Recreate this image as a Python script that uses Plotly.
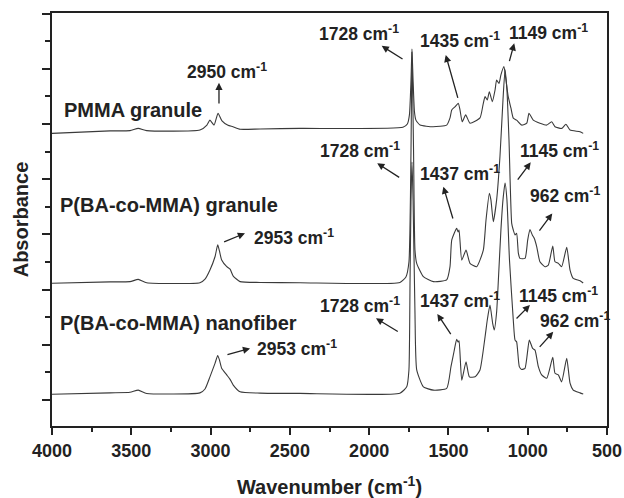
import plotly.graph_objects as go

# ---- data (wavenumber cm^-1, offset absorbance in arbitrary units) ----
pmma_wn = [4000, 3634, 3508, 3456, 3403, 3067, 3023, 3004, 2978, 2953, 2928, 2890, 2859, 2814, 2688, 2436,
           1787, 1759, 1746, 1736, 1730, 1723, 1714, 1705, 1679, 1597, 1511, 1490, 1479, 1459, 1438, 1427,
           1413, 1391, 1364, 1301, 1282, 1269, 1255, 1242, 1223, 1206, 1196, 1181, 1169, 1150, 1137, 1123,
           1106, 1091, 1070, 1038, 1006, 992, 965, 923, 880, 849, 828, 786, 759, 733, 670, 650]
pmma_ab = [9.66, 9.75, 9.76, 9.84, 9.76, 9.78, 9.96, 10.14, 9.96, 10.39, 10.11, 9.95, 9.90, 9.81, 9.82, 9.84,
           9.88, 10.00, 10.33, 11.59, 12.71, 11.59, 10.43, 10.14, 9.96, 9.90, 9.96, 10.22, 10.51, 10.62, 10.75, 10.51,
           10.08, 10.33, 10.03, 10.22, 10.69, 10.99, 10.87, 11.17, 10.81, 11.23, 11.59, 11.47, 11.78, 12.08, 11.59, 10.99,
           10.58, 10.21, 10.14, 9.96, 10.03, 10.39, 10.14, 10.03, 9.96, 10.08, 9.90, 9.84, 9.99, 9.78, 9.72, 9.66]

gran_wn = [4000, 3634, 3508, 3456, 3403, 3067, 3035, 3004, 2972, 2955, 2944, 2930, 2898, 2877, 2857, 2814, 2688, 2436,
           1806, 1768, 1749, 1736, 1730, 1720, 1711, 1700, 1658, 1595, 1511, 1490, 1479, 1448, 1439, 1433, 1416,
           1389, 1364, 1322, 1280, 1263, 1242, 1232, 1217, 1196, 1175, 1156, 1143, 1131, 1118, 1101, 1091, 1080,
           1070, 1059, 1049, 1017, 1000, 986, 971, 959, 943, 923, 891, 870, 842, 828, 807, 786, 754, 733, 713, 670, 650]
gran_ab = [4.23, 4.28, 4.29, 4.37, 4.25, 4.25, 4.38, 4.71, 5.19, 5.62, 5.40, 5.07, 4.83, 4.74, 4.49, 4.29, 4.26, 4.25,
           4.26, 4.46, 5.00, 9.06, 12.61, 9.06, 5.43, 4.95, 4.47, 4.29, 4.35, 4.83, 5.80, 6.22, 6.09, 6.16, 5.07,
           5.43, 4.95, 4.83, 5.43, 6.52, 7.49, 7.25, 6.46, 7.25, 8.82, 10.87, 11.96, 11.23, 9.42, 6.40, 6.16, 5.98,
           6.04, 5.32, 5.13, 5.13, 5.80, 6.18, 5.98, 5.86, 5.55, 5.01, 4.83, 4.89, 5.58, 5.01, 4.95, 4.83, 5.53, 4.71, 4.41, 4.32, 4.24]

fib_wn = [4000, 3634, 3508, 3456, 3403, 3067, 3035, 3004, 2972, 2955, 2944, 2930, 2898, 2877, 2857, 2814, 2688, 2436,
          1806, 1763, 1749, 1742, 1736, 1730, 1723, 1711, 1700, 1658, 1595, 1511, 1484, 1465, 1448, 1439, 1433, 1416,
          1389, 1368, 1332, 1301, 1269, 1255, 1238, 1221, 1211, 1196, 1185, 1169, 1156, 1143, 1131, 1115, 1091, 1080,
          1070, 1053, 1038, 1017, 990, 969, 954, 933, 912, 880, 842, 828, 807, 786, 754, 733, 713, 670, 650]
fib_ab = [0.21, 0.26, 0.28, 0.36, 0.24, 0.26, 0.40, 0.84, 1.33, 1.61, 1.45, 1.15, 0.91, 0.75, 0.54, 0.30, 0.25, 0.24,
          0.25, 0.48, 1.09, 4.35, 7.25, 8.62, 7.25, 3.15, 1.09, 0.48, 0.36, 0.42, 1.21, 1.75, 2.20, 2.10, 2.15, 0.72,
          1.39, 0.84, 0.84, 1.09, 2.29, 2.90, 3.44, 2.78, 2.54, 3.19, 4.35, 6.16, 7.25, 7.86, 7.25, 5.07, 2.90, 2.17,
          2.11, 1.21, 1.11, 1.15, 2.17, 1.87, 1.81, 1.21, 0.91, 0.79, 1.55, 0.97, 0.91, 0.66, 1.51, 0.61, 0.36, 0.26, 0.22]

series_names = ["PMMA granule", "P(BA-co-MMA) granule", "P(BA-co-MMA) nanofiber"]
x_ticks = [4000, 3500, 3000, 2500, 2000, 1500, 1000, 500]

FONT = "Liberation Sans, Arial, Helvetica, sans-serif"
LINE = "#3a3a3a"

fig = go.Figure()
for name, xs, ys in zip(series_names, [pmma_wn, gran_wn, fib_wn], [pmma_ab, gran_ab, fib_ab]):
    fig.add_trace(go.Scatter(x=xs, y=ys, mode="lines", name=name,
                             line=dict(color=LINE, width=1.1, shape="spline", smoothing=0.5),
                             showlegend=False))

ann = []
# sample names
for name, xx, yy in [(series_names[0], 3937, 10.51), (series_names[1], 3960, 7.07), (series_names[2], 3960, 2.78)]:
    ann.append(dict(x=xx, y=yy, xref="x", yref="y", text=name, showarrow=False, xanchor="left", yanchor="middle",
                    font=dict(family=FONT, size=20, color="#222", weight="bold")))

# peak labels (text, x left, y middle)
peak_labels = [("2950", 3161, 11.93), ("1728", 2331, 13.30), ("1435", 1690, 13.04), ("1149", 1133, 13.34),
               ("1728", 2321, 9.06), ("1437", 1690, 8.21), ("1145", 1059, 9.06), ("962", 1000, 7.43),
               ("2953", 2741, 5.89), ("2953", 2720, 1.87), ("1728", 2321, 3.44), ("1437", 1690, 3.62),
               ("1145", 1070, 3.80), ("962", 933, 2.90)]
for t, xx, yy in peak_labels:
    ann.append(dict(x=xx, y=yy, xref="x", yref="y", text=f"{t} cm<sup>-1</sup>", showarrow=False,
                    xanchor="left", yanchor="middle",
                    font=dict(family=FONT, size=17.5, color="#222", weight="bold")))

# arrows (tail -> head)
arrows = [((2947, 10.69), (2947, 11.49)), ((1780, 12.32), (1921, 12.83)), ((1438, 10.89), (1517, 12.50)),
          ((1118, 12.22), (1085, 12.92)), ((1801, 8.03), (1949, 8.58)), ((1469, 6.52), (1532, 7.73)),
          ((1070, 7.93), (981, 8.61)), ((933, 6.08), (845, 6.76)), ((2924, 5.71), (2783, 6.04)),
          ((2903, 1.63), (2751, 1.87)), ((1810, 2.45), (1957, 2.96)), ((1479, 2.33), (1570, 3.12)),
          ((1080, 2.90), (986, 3.44)), ((933, 1.87), (839, 2.47))]
for (tx, ty), (hx, hy) in arrows:
    ann.append(dict(x=hx, y=hy, ax=tx, ay=ty, xref="x", yref="y", axref="x", ayref="y", text="",
                    showarrow=True, arrowhead=2, arrowsize=1.1, arrowwidth=1.3, arrowcolor="#222"))

fig.update_layout(
    width=624, height=498,
    margin=dict(l=52, r=17, t=13, b=72),
    paper_bgcolor="white", plot_bgcolor="white",
    annotations=ann,
    font=dict(family=FONT, color="#222"),
    xaxis=dict(range=[4000, 500], tickvals=x_ticks, ticks="outside", ticklen=7, tickwidth=1.5, tickcolor="#222",
               minor=dict(dtick=250, ticks="outside", ticklen=4, tickwidth=1.5, tickcolor="#222"),
               showline=True, linewidth=2, linecolor="#222", mirror=True, showgrid=False, zeroline=False,
               automargin=False,
               tickfont=dict(family=FONT, size=18, color="#222", weight="bold"),
               title=dict(text="Wavenumber (cm<sup>-1</sup>)", standoff=32,
                          font=dict(family=FONT, size=20, color="#222", weight="bold"))),
    yaxis=dict(range=[-0.94, 14.02], tick0=0, dtick=2, ticks="outside", ticklen=8, tickwidth=1.5, tickcolor="#222",
               minor=dict(dtick=1, ticks="outside", ticklen=5, tickwidth=1.5, tickcolor="#222"),
               showticklabels=False, showline=True, linewidth=2, linecolor="#222", mirror=True,
               showgrid=False, zeroline=False, automargin=False,
               title=dict(text="Absorbance", standoff=8,
                          font=dict(family=FONT, size=20, color="#222", weight="bold"))),
)

fig.write_html("out.html")
